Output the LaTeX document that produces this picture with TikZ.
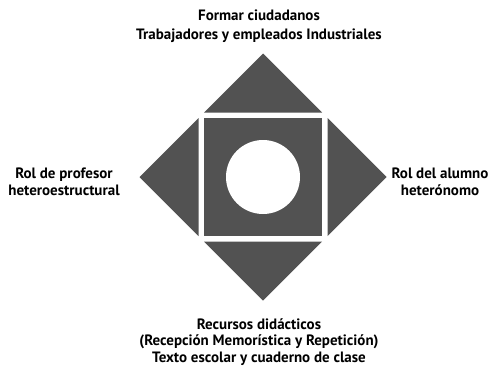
\documentclass[tikz,border=0pt]{standalone}
\usepackage{fontspec}
\setmainfont{PT Sans}
\usepackage{tikz}
\begin{document}
\begin{tikzpicture}
        [x=1pt,y=-1pt,
        pieza/.style={fill=black!68,draw=none},
        marco/.style={fill=black!68,draw=white,line width=2.5pt},
        lbl/.style={align=center,inner sep=0pt,
                    font=\bfseries\fontsize{15}{16.8}\selectfont}]
        \useasboundingbox (0,0) rectangle (492,367);
        \coordinate (c) at (263,177);
        % triangles around the square
        \foreach \a in {0,90,180,270}
            \fill[pieza,rotate around={\a:(c)}]
                ([shift={(-59,-64.5)}]c) -- ([shift={(59,-64.5)}]c)
                -- ([shift={(0,-123.5)}]c) -- cycle;
        \filldraw[marco] ([shift={(-60,-60)}]c) rectangle ([shift={(60,60)}]c);
        \fill[white] (c) circle (37pt);
        % texts
        \node[lbl] (fin) at (259,26)
            {Formar ciudadanos\\[2pt]Trabajadores y empleados Industriales};
        \node[lbl] (profesor) at (64,182) {Rol de profesor\\heteroestructural};
        \node[lbl] (alumno) at (440,182) {Rol del alumno\\heterónomo};
        \node[lbl] (recursos) at (259,342)
            {Recursos didácticos\\(Recepción Memorística y Repetición)\\Texto escolar y cuaderno de clase};
\end{tikzpicture}
\end{document}
